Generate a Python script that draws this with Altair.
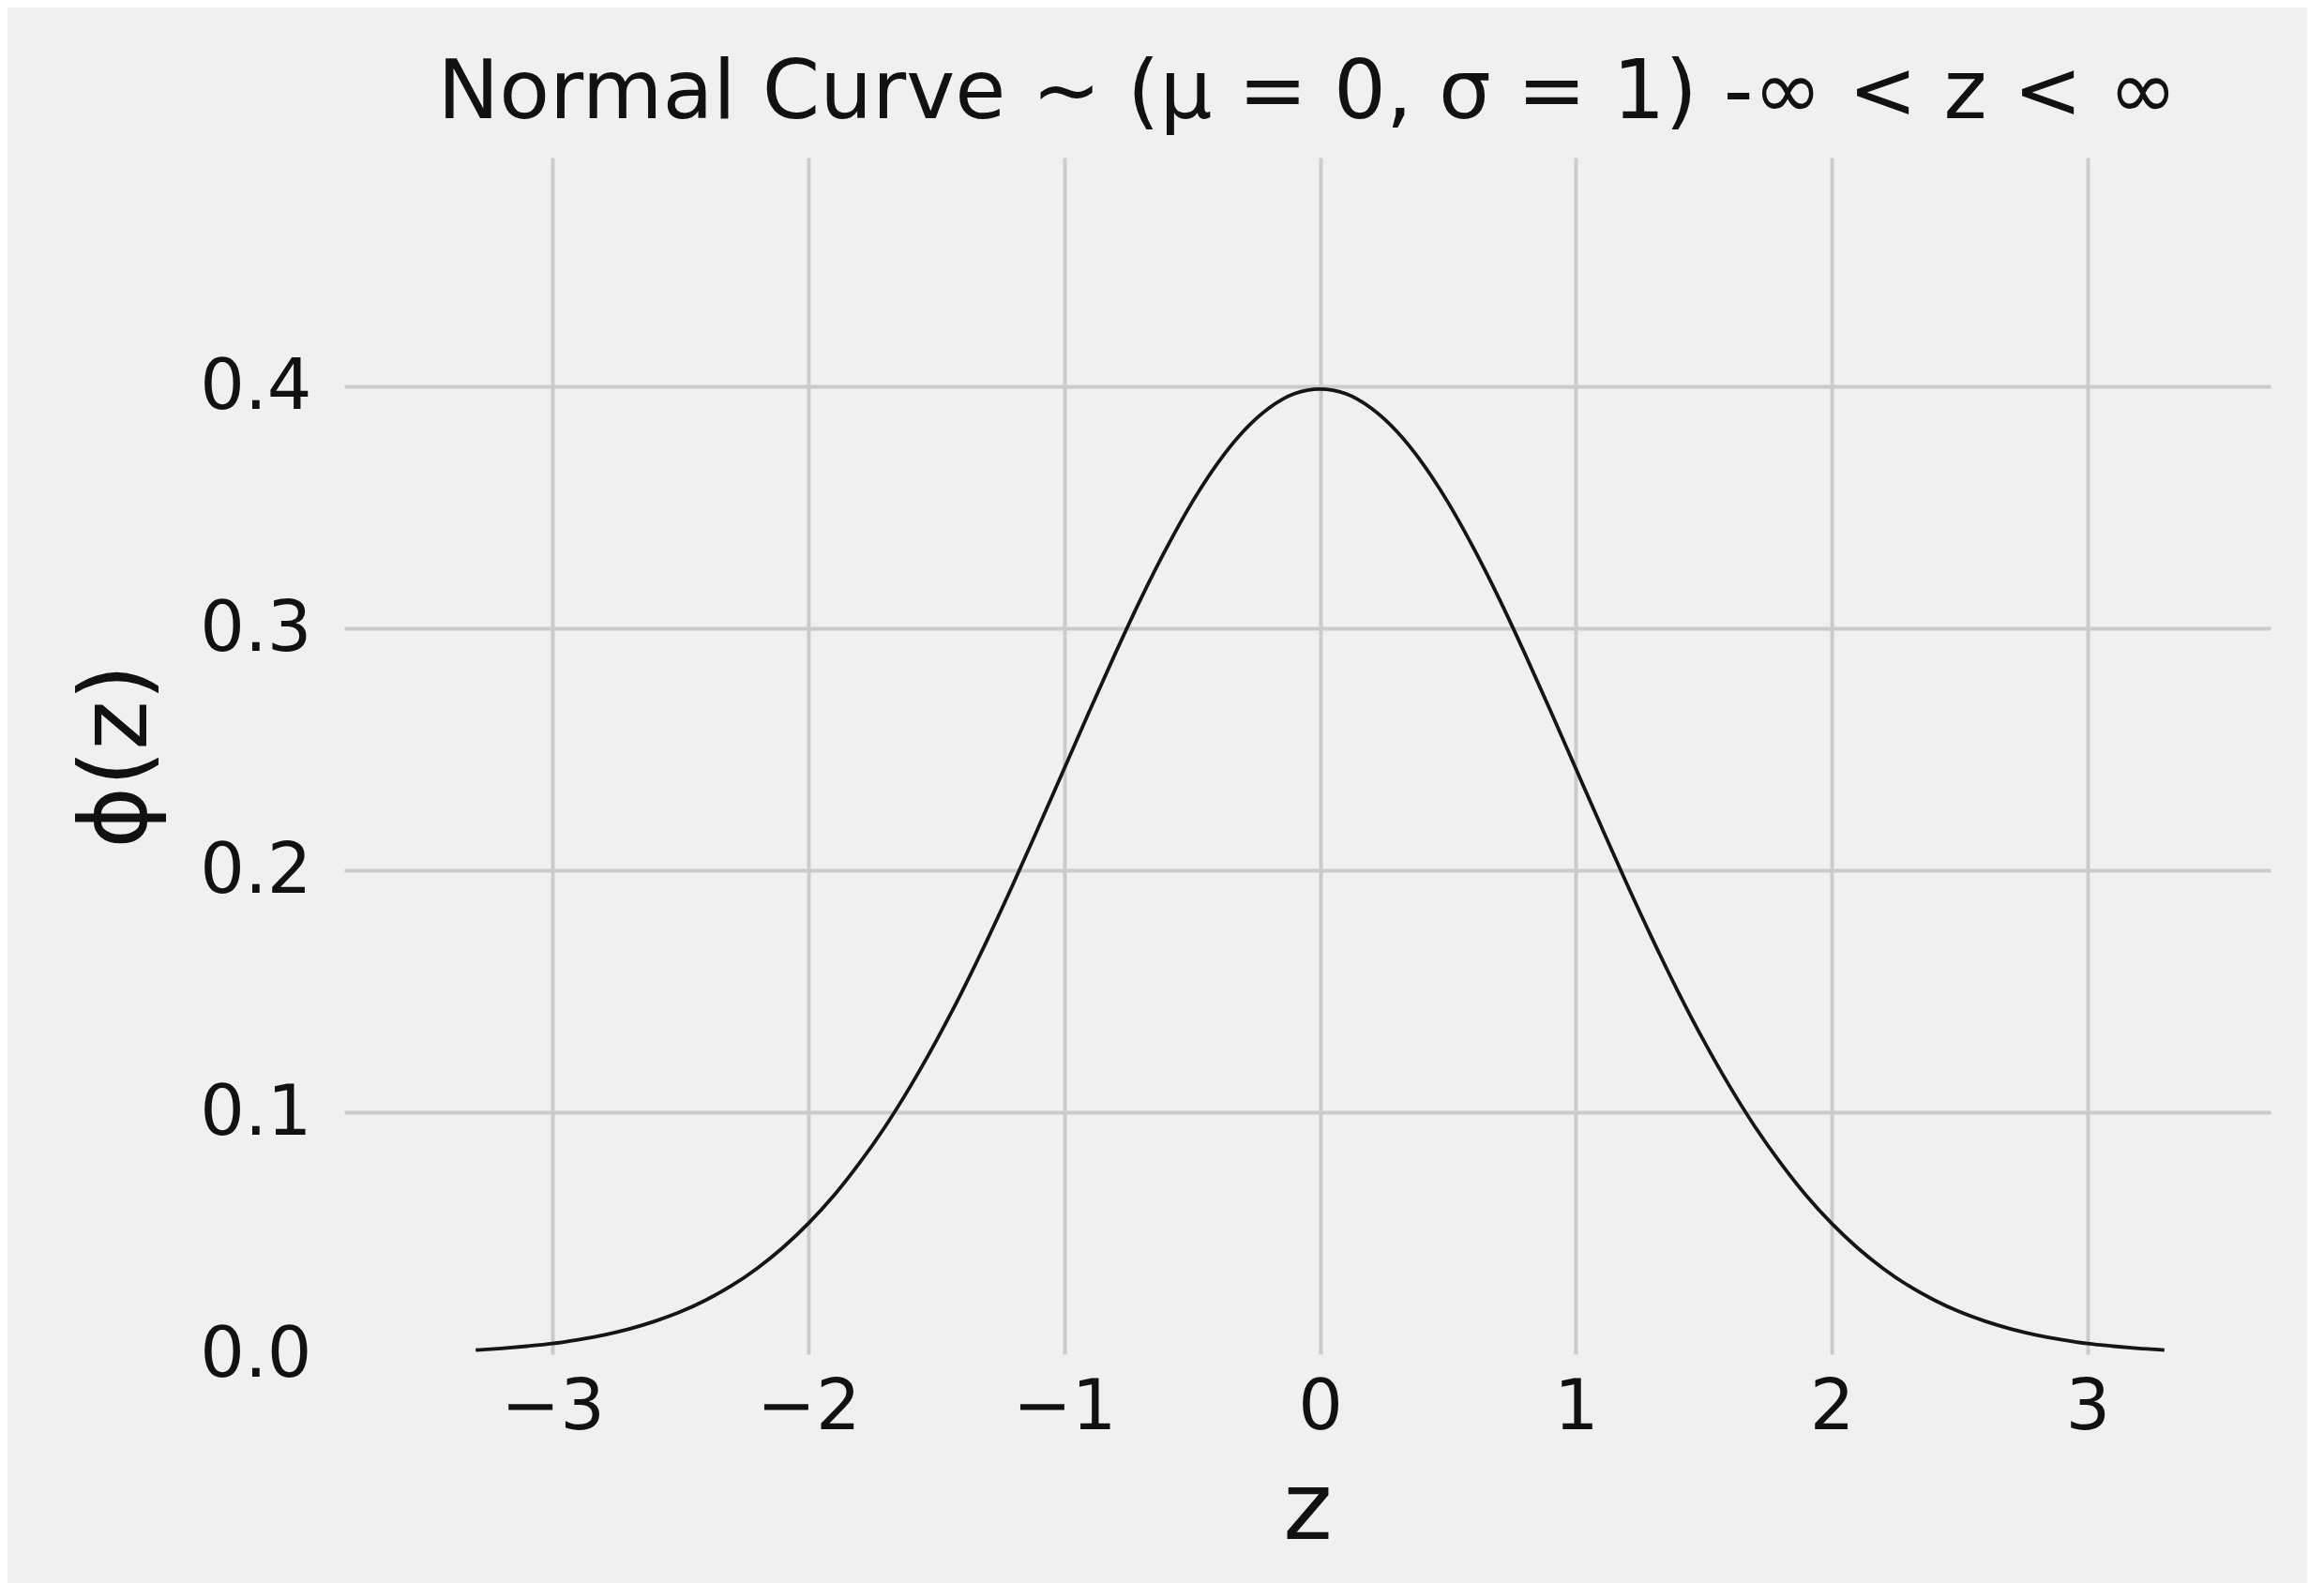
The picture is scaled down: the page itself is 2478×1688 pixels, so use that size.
import altair as alt
import pandas as pd

# Values (standard normal density curve)
z_values = [-3.3, -3.2, -3.1, -3.0, -2.9, -2.8, -2.7, -2.6, -2.5, -2.4, -2.3, -2.2,
            -2.1, -2.0, -1.9, -1.8, -1.7, -1.6, -1.5, -1.4, -1.3, -1.2, -1.1, -1.0,
            -0.9, -0.8, -0.7, -0.6, -0.5, -0.4, -0.3, -0.2, -0.1, 0.0,
            0.1, 0.2, 0.3, 0.4, 0.5, 0.6, 0.7, 0.8, 0.9, 1.0, 1.1, 1.2,
            1.3, 1.4, 1.5, 1.6, 1.7, 1.8, 1.9, 2.0, 2.1, 2.2, 2.3, 2.4,
            2.5, 2.6, 2.7, 2.8, 2.9, 3.0, 3.1, 3.2, 3.3]
phi_values = [0.0017, 0.0024, 0.0033, 0.0044, 0.0060, 0.0079, 0.0104, 0.0136, 0.0175, 0.0224, 0.0283, 0.0355,
              0.0440, 0.0540, 0.0656, 0.0790, 0.0940, 0.1109, 0.1295, 0.1497, 0.1714, 0.1942, 0.2179, 0.2420,
              0.2661, 0.2897, 0.3123, 0.3332, 0.3521, 0.3683, 0.3814, 0.3910, 0.3970, 0.3989,
              0.3970, 0.3910, 0.3814, 0.3683, 0.3521, 0.3332, 0.3123, 0.2897, 0.2661, 0.2420, 0.2179, 0.1942,
              0.1714, 0.1497, 0.1295, 0.1109, 0.0940, 0.0790, 0.0656, 0.0540, 0.0440, 0.0355, 0.0283, 0.0224,
              0.0175, 0.0136, 0.0104, 0.0079, 0.0060, 0.0044, 0.0033, 0.0024, 0.0017]

x_ticks = [-3, -2, -1, 0, 1, 2, 3]
y_ticks = [0.0, 0.1, 0.2, 0.3, 0.4]

title_text = "Normal Curve ~ (μ = 0, σ = 1) -∞ < z < ∞"
x_label = "z"
y_label = "ϕ(z)"

df = pd.DataFrame({"z": z_values, "phi": phi_values})

FONT = "DejaVu Sans"
BG = "#f0f0f0"
GRID = "#cbcbcb"
TEXT = "#111111"

chart = (
    alt.Chart(df)
    .mark_line(color="#151515", strokeWidth=3.8, interpolate="monotone", clip=True)
    .encode(
        x=alt.X(
            "z:Q",
            scale=alt.Scale(domain=[-3.814, 3.715], nice=False, zero=False),
            axis=alt.Axis(
                values=x_ticks,
                format="d",
                title=x_label,
                titleFont=FONT,
                titleFontSize=100,
                titleFontWeight="normal",
                titleColor=TEXT,
                titleBaseline="alphabetic",
                titleY=196,
                labelFont=FONT,
                labelFontSize=75,
                labelColor=TEXT,
                labelPadding=20,
                labelFlush=False,
                domain=False,
                ticks=False,
                grid=True,
                gridColor=GRID,
                gridWidth=4,
            ),
        ),
        y=alt.Y(
            "phi:Q",
            scale=alt.Scale(domain=[0, 0.4946], nice=False, zero=False),
            axis=alt.Axis(
                values=y_ticks,
                format=".1f",
                title=y_label,
                titleFont=FONT,
                titleFontSize=100,
                titleFontWeight="normal",
                titleColor=TEXT,
                titleBaseline="alphabetic",
                titleX=-212,
                titleAngle=270,
                labelFont=FONT,
                labelFontSize=75,
                labelColor=TEXT,
                labelPadding=35,
                labelFlush=False,
                domain=False,
                ticks=False,
                grid=True,
                gridColor={"condition": {"test": "datum.value === 0", "value": "transparent"}, "value": GRID},
                gridWidth=4,
            ),
        ),
    )
    .properties(
        width=2054,
        height=1276,
        title=alt.TitleParams(
            text=title_text,
            font=FONT,
            fontSize=88,
            fontWeight="normal",
            color=TEXT,
            anchor="middle",
            baseline="alphabetic",
            offset=-46,
        ),
        autosize=alt.AutoSizeParams(type="none"),
        padding={"left": 359, "top": 160, "right": 39, "bottom": 244},
        background=BG,
    )
    .configure_view(strokeWidth=0, fill=BG)
)

chart.save("out.html", embed_options={"renderer": "svg", "actions": False})
